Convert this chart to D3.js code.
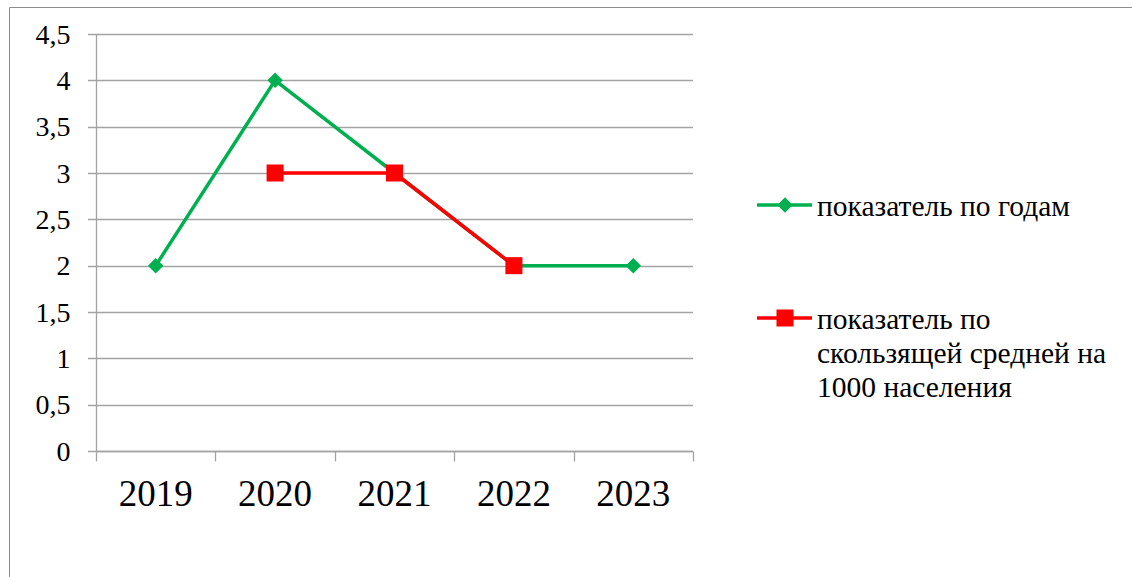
<!DOCTYPE html>
<html>
<head>
<meta charset="utf-8">
<script src="https://cdn.jsdelivr.net/npm/d3@7"></script>
<style>
  html, body { margin: 0; padding: 0; background: #fff; overflow: hidden; }
  svg { display: block; }
</style>
</head>
<body>
<svg id="chart" width="1132" height="577" font-family="Liberation Serif">
  <text id="warm" x="-500" y="-500" font-family="Liberation Serif" font-size="20">0</text>
</svg>
<script>
// Годы наблюдения
const years = ["2019", "2020", "2021", "2022", "2023"];
// Показатель по годам
const yearlyValues = [2, 4, 3, 2, 2];
// Показатель по скользящей средней на 1000 населения
const movingAvgValues = [null, 3, 3, 2, null];
// Подписи оси значений
const yTicks = [0, 0.5, 1, 1.5, 2, 2.5, 3, 3.5, 4, 4.5];
// Подписи легенды (с переносами строк)
const legendLines = [["показатель по годам"], ["показатель по", "скользящей средней на", "1000 населения"]];

const GREEN = "#00b050", RED = "#ff0000", GRID = "#a3a3a3";
const FONT = "Liberation Serif";

const svg = d3.select("#chart");
svg.select("#warm").remove();

// рамка области диаграммы
svg.append("path")
  .attr("d", "M9.5,577 V7.5 H1132")
  .attr("fill", "none").attr("stroke", "#8c8c8c").attr("stroke-width", 1);

const plot = { left: 96, right: 693, top: 34, bottom: 451 };

const x = d3.scaleBand().domain(years).range([plot.left, plot.right]);
const y = d3.scaleLinear().domain([0, 4.5]).range([plot.bottom, plot.top]);

// горизонтальные линии сетки
svg.append("g")
  .selectAll("line").data(yTicks).join("line")
  .attr("x1", plot.left - 8).attr("x2", plot.right)
  .attr("y1", d => Math.round(y(d)) + 0.5).attr("y2", d => Math.round(y(d)) + 0.5)
  .attr("stroke", GRID).attr("stroke-width", 1.3);

// ось Y
const yAxis = svg.append("g")
  .attr("transform", `translate(${plot.left + 0.5},0)`)
  .call(d3.axisLeft(y).tickValues(yTicks).tickSize(0).tickPadding(26)
    .tickFormat(d => String(d).replace(".", ",")));
yAxis.attr("font-family", FONT).attr("font-size", 28);
yAxis.select(".domain").attr("stroke", GRID).attr("stroke-width", 1.3)
  .attr("d", `M0,${plot.top}V${plot.bottom}`);
yAxis.selectAll("text").attr("fill", "#000").attr("dy", "0.33em");

// ось X
const xAxis = svg.append("g")
  .attr("transform", `translate(0,${Math.round(y(0)) + 0.5})`)
  .call(d3.axisBottom(x).tickSize(0).tickPadding(0));
xAxis.attr("font-family", FONT).attr("font-size", 37);
xAxis.select(".domain").remove();
xAxis.selectAll("text").attr("fill", "#000").attr("dy", null).attr("y", 54);
// засечки на границах категорий
const bounds = years.map(d => x(d)).concat([plot.right]);
xAxis.append("g").selectAll("line").data(bounds).join("line")
  .attr("x1", d => Math.round(d) + 0.5).attr("x2", d => Math.round(d) + 0.5)
  .attr("y1", 0).attr("y2", 10)
  .attr("stroke", GRID).attr("stroke-width", 1.3);
xAxis.append("line").attr("x1", plot.left).attr("x2", plot.right)
  .attr("stroke", GRID).attr("stroke-width", 1.3);

const cx = (i) => x(years[i]) + x.bandwidth() / 2;

const line = d3.line()
  .defined(d => d.v != null)
  .x(d => cx(d.i)).y(d => y(d.v));

const diamond = d3.symbol(d3.symbolSquare, 120)();

function drawSeries(values, color, marker) {
  const pts = values.map((v, i) => ({ v, i }));
  svg.append("path").datum(pts)
    .attr("d", line).attr("fill", "none")
    .attr("stroke", color).attr("stroke-width", 3.5).attr("stroke-linejoin", "round");
  const pd = pts.filter(d => d.v != null);
  if (marker === "diamond") {
    svg.append("g").selectAll("path").data(pd).join("path")
      .attr("d", diamond)
      .attr("transform", d => `translate(${cx(d.i)},${y(d.v)}) rotate(45)`)
      .attr("fill", color);
  } else {
    svg.append("g").selectAll("rect").data(pd).join("rect")
      .attr("x", d => cx(d.i) - 8.5).attr("y", d => y(d.v) - 8.5)
      .attr("width", 17).attr("height", 17).attr("fill", color);
  }
}

drawSeries(yearlyValues, GREEN, "diamond");
drawSeries(movingAvgValues, RED, "square");

// легенда
const legend = [
  { color: GREEN, marker: "diamond", y: 205, lines: legendLines[0] },
  { color: RED, marker: "square", y: 318, lines: legendLines[1] }
];
legend.forEach(item => {
  const g = svg.append("g");
  g.append("line").attr("x1", 757).attr("x2", 812).attr("y1", item.y).attr("y2", item.y)
    .attr("stroke", item.color).attr("stroke-width", 3.5);
  if (item.marker === "diamond") {
    g.append("path").attr("d", diamond)
      .attr("transform", `translate(785,${item.y}) rotate(45)`).attr("fill", item.color);
  } else {
    g.append("rect").attr("x", 776.5).attr("y", item.y - 8.5).attr("width", 17).attr("height", 17)
      .attr("fill", item.color);
  }
  const t = g.append("text").attr("x", 817).attr("y", item.y + 11)
    .attr("font-family", FONT).attr("font-size", 29.5).attr("fill", "#000");
  item.lines.forEach((s, k) => {
    t.append("tspan").attr("x", 817).attr("dy", k === 0 ? 0 : 34).text(s);
  });
});
</script>
</body>
</html>
